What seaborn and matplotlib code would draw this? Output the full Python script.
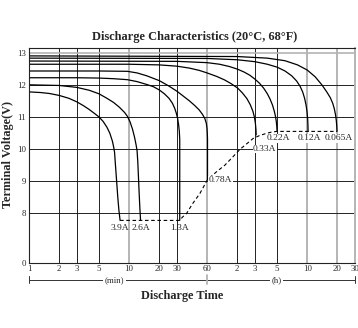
import numpy as np
import pandas as pd
import matplotlib
matplotlib.use("Agg")
import matplotlib.pyplot as plt
import seaborn as sns

# ---------------- data (time in minutes, voltage in V) ----------------
currents = ["3.9A", "2.6A", "1.3A", "0.78A", "0.33A", "0.22A", "0.12A", "0.065A"]

t_39 = [1, 1.3, 1.6, 2, 2.5, 3, 3.5, 4, 4.5, 5, 5.5, 6, 6.4, 6.8, 7.0, 7.15, 7.3, 7.5, 7.7, 7.9, 8.12]
v_39 = [11.78, 11.76, 11.73, 11.67, 11.58, 11.47, 11.35, 11.23, 11.11, 11.0, 10.86, 10.68, 10.5,
        10.25, 10.07, 9.9, 9.5, 9.0, 8.5, 8.1, 7.78]

t_26 = [1, 2, 3, 4, 5, 6, 7, 8, 9, 9.6, 10.2, 10.8, 11.3, 11.7, 12.0, 12.2, 12.4, 12.6, 12.8, 13.0]
v_26 = [12.0, 11.98, 11.92, 11.83, 11.72, 11.58, 11.45, 11.3, 11.14, 11.02, 10.85, 10.62, 10.38,
        10.15, 9.95, 9.6, 9.1, 8.6, 8.15, 7.78]

t_13 = [1, 3, 5, 7, 9.6, 12, 15, 17.5, 20, 22.5, 25, 27, 28.5, 29.5, 30.5, 31.2, 31.7, 32.0, 32.0]
v_13 = [12.22, 12.22, 12.21, 12.19, 12.16, 12.1, 12.01, 11.94, 11.84, 11.72, 11.58, 11.43, 11.27,
        11.13, 10.95, 10.75, 10.55, 10.3, 7.78]

t_078 = [1, 5, 9.6, 12, 15, 20, 25, 30, 35, 40, 45, 50, 54, 57, 59, 60, 60.4, 60.6, 60.6]
v_078 = [12.43, 12.43, 12.42, 12.37, 12.28, 12.13, 11.96, 11.8, 11.64, 11.5, 11.36, 11.22, 11.08,
         10.95, 10.8, 10.62, 10.45, 10.3, 9.05]

t_033 = [1, 10, 20, 30, 40, 50, 60, 75, 90, 105, 121, 135, 150, 162, 172, 178, 182, 184.5, 185.5]
v_033 = [12.64, 12.64, 12.62, 12.58, 12.52, 12.45, 12.37, 12.26, 12.15, 12.03, 11.9, 11.75, 11.57,
         11.38, 11.18, 11.0, 10.82, 10.62, 10.44]

t_022 = [1, 30, 60, 80, 100, 120, 140, 160, 180, 200, 220, 240, 255, 270, 282, 290, 295, 298, 300]
v_022 = [12.74, 12.73, 12.69, 12.64, 12.57, 12.49, 12.4, 12.3, 12.18, 12.05, 11.9, 11.72, 11.56,
         11.37, 11.17, 11.0, 10.85, 10.7, 10.55]

t_012 = [1, 60, 120, 180, 240, 300, 360, 420, 470, 510, 540, 565, 585, 598, 606, 610, 612]
v_012 = [12.83, 12.82, 12.78, 12.72, 12.64, 12.55, 12.43, 12.28, 12.12, 11.95, 11.78, 11.58, 11.36,
         11.15, 10.95, 10.75, 10.55]

t_0065 = [1, 120, 240, 360, 480, 600, 720, 840, 940, 1020, 1080, 1120, 1150, 1172, 1184, 1190]
v_0065 = [12.9, 12.88, 12.83, 12.75, 12.62, 12.46, 12.25, 12.0, 11.78, 11.6, 11.42, 11.25, 11.07,
          10.88, 10.7, 10.55]

# end-voltage (dashed) line
t_end = [8.12, 32.0, 34, 37.5, 43, 50.9, 60.6, 75, 90.4, 108, 127.6, 150, 173, 200, 230, 265, 300, 1190]
v_end = [7.78, 7.78, 7.88, 8.0, 8.3, 8.62, 9.05, 9.3, 9.5, 9.75, 9.99, 10.17, 10.33, 10.42, 10.48,
         10.53, 10.55, 10.55]

# axis ticks
x_ticks = [1, 2, 3, 5, 10, 20, 30, 60, 120, 180, 300, 600, 1200, 1800]
x_tick_labels = ["1", "2", "3", "5", "10", "20", "30", "60", "2", "3", "5", "10", "20", "30"]
x_gray = [10, 60, 600, 1200]
y_ticks = [6.47, 8, 9, 10, 11, 12, 13]   # 0 V drawn on a broken axis
y_tick_labels = ["0", "8", "9", "10", "11", "12", "13"]

series_t = [t_39, t_26, t_13, t_078, t_033, t_022, t_012, t_0065]
series_v = [v_39, v_26, v_13, v_078, v_033, v_022, v_012, v_0065]

rows = []
for c, ts, vs in zip(currents, series_t, series_v):
    for i, (t, v) in enumerate(zip(ts, vs)):
        rows.append({"current": c, "time": t, "voltage": v, "order": i})
df = pd.DataFrame(rows)
df_end = pd.DataFrame({"time": t_end, "voltage": v_end})

# ---------------- plotting ----------------
sns.set_style("white")
plt.rcParams["font.family"] = ["Liberation Serif", "DejaVu Serif"]

fig = plt.figure(figsize=(3.58, 3.28), dpi=100)
ax = fig.add_axes([29 / 358, 1 - 262.5 / 328, (355 - 29) / 358, (262.5 - 47.7) / 328])
ax.set_xscale("log")

# grid lines
for xt in x_ticks[1:-1]:
    if xt in x_gray:
        ax.axvline(xt, color="#b4b4b4", lw=1.4, zorder=0)
    else:
        ax.axvline(xt, color="#222222", lw=0.7, zorder=0)
for yt in y_ticks[1:]:
    if yt == 13:
        ax.axhline(yt, color="#b4b4b4", lw=1.2, zorder=0)
    else:
        ax.axhline(yt, color="#222222", lw=0.7, zorder=0)

sns.lineplot(data=df, x="time", y="voltage", hue="current", units="current",
             estimator=None, sort=False, palette={c: "black" for c in currents},
             legend=False, lw=0.9, ax=ax)
sns.lineplot(data=df_end, x="time", y="voltage", estimator=None, sort=False,
             color="black", lw=0.8, linestyle=(0, (3.2, 2.4)), ax=ax)

ax.set_xlim(1, 1800)
ax.set_ylim(6.47, 13.155)
ax.set_xticks(x_ticks)
ax.set_xticklabels(x_tick_labels, fontsize=6.3)
ax.xaxis.set_minor_locator(matplotlib.ticker.NullLocator())
ax.set_yticks(y_ticks)
ax.set_yticklabels(y_tick_labels, fontsize=6.3)
ax.tick_params(length=0, pad=2)
ax.set_xlabel("")
ax.set_ylabel("")

for s in ["left", "bottom", "top"]:
    ax.spines[s].set_color("#222222")
    ax.spines[s].set_linewidth(0.8)
ax.spines["right"].set_color("#b4b4b4")
ax.spines["right"].set_linewidth(1.4)

# current labels
lab_fs = 6.8
ends = {c: (ts[-1], vs[-1]) for c, ts, vs in zip(currents, series_t, series_v)}
for c in ["3.9A", "2.6A", "1.3A"]:
    ax.text(ends[c][0], 7.53, c, ha="center", va="center", fontsize=lab_fs)
for c in ["0.22A", "0.12A", "0.065A"]:
    ax.text(ends[c][0] * 1.03, 10.33, c, ha="center", va="center", fontsize=lab_fs,
            bbox=dict(facecolor="white", edgecolor="none", pad=0.3))
ax.text(ends["0.78A"][0] * 1.03, 9.03, "0.78A", ha="left", va="center", fontsize=lab_fs,
        bbox=dict(facecolor="white", edgecolor="none", pad=0.3))
ax.text(ends["0.33A"][0] * 1.22, 10.0, "0.33A", ha="center", va="center", fontsize=lab_fs,
        bbox=dict(facecolor="white", edgecolor="none", pad=0.3))

# unit brackets under the axis
tr = ax.get_xaxis_transform()
yb = -0.081
ax.plot([1, 1800], [yb, yb], transform=tr, color="#333333", lw=0.7, clip_on=False)
ax.plot([1, 1], [yb - 0.015, yb + 0.02], transform=tr, color="#333333", lw=0.7, clip_on=False)
ax.plot([60, 60], [yb - 0.02, yb + 0.025], transform=tr, color="#b4b4b4", lw=1.3, clip_on=False)
ax.plot([1800, 1800], [yb - 0.015, yb + 0.02], transform=tr, color="#333333", lw=0.7, clip_on=False)
ax.text(7.1, yb, "(min)", transform=tr, ha="center", va="center", fontsize=6.3,
        bbox=dict(facecolor="white", edgecolor="none", pad=1.2))
ax.text(295, yb, "(h)", transform=tr, ha="center", va="center", fontsize=6.3,
        bbox=dict(facecolor="white", edgecolor="none", pad=1.2))

fig.text(195 / 358, 1 - 37 / 328, "Discharge Characteristics (20°C, 68°F)",
         ha="center", va="center", fontsize=8.9, fontweight="bold")
fig.text(8 / 358, 1 - 155 / 328, "Terminal Voltage(V)", rotation=90,
         ha="center", va="center", fontsize=8.8, fontweight="bold")
fig.text(182.5 / 358, 1 - 296 / 328, "Discharge Time",
         ha="center", va="center", fontsize=8.8, fontweight="bold")

fig.savefig("out.png", dpi=100)
